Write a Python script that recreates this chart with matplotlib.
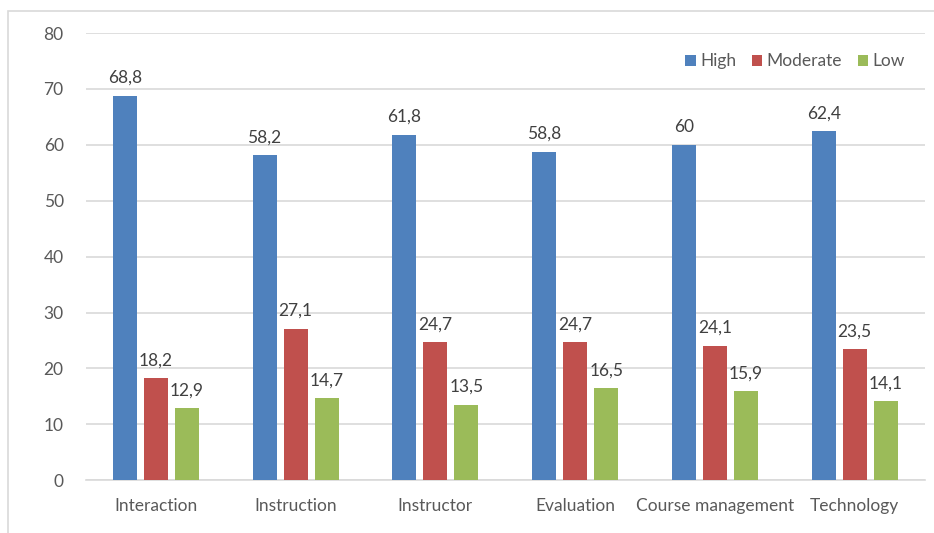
import numpy as np
import matplotlib
matplotlib.use("Agg")
import matplotlib.pyplot as plt
from matplotlib.patches import Rectangle

categories = ["Interaction", "Instruction", "Instructor", "Evaluation", "Course management", "Technology"]
high = [68.8, 58.2, 61.8, 58.8, 60, 62.4]
moderate = [18.2, 27.1, 24.7, 24.7, 24.1, 23.5]
low = [12.9, 14.7, 13.5, 16.5, 15.9, 14.1]
series = [("High", high, "#4f81bd"), ("Moderate", moderate, "#c0504d"), ("Low", low, "#9bbb59")]

plt.rcParams["font.family"] = ["Lato", "DejaVu Sans"]
txt = "#595959"

fig = plt.figure(figsize=(9.34, 5.33), dpi=100)
ax = fig.add_axes([0.092, 0.099, 0.898, 0.839])
fig.patches.append(Rectangle((8 / 934, -0.1), 1.1, 1 - 11 / 533 + 0.1, transform=fig.transFigure,
                             fill=False, edgecolor="#d9d9d9", lw=1.2))

x = np.arange(len(categories))
step, w = 0.222, 0.172
for k, (name, vals, col) in enumerate(series):
    xs = x + (k - 1) * step
    ax.bar(xs, vals, w, color=col, label=name, zorder=3)
    for xi, v in zip(xs, vals):
        lab = f"{v:g}".replace(".", ",")
        ax.annotate(lab, (xi, v), xytext=(0, 7), textcoords="offset points",
                    ha="center", va="bottom", fontsize=12.5, color="#404040")

ax.set_xlim(-0.5, len(categories) - 0.5)
ax.set_ylim(0, 80)
ax.set_yticks(range(0, 81, 10))
ax.yaxis.grid(True, color="#d9d9d9", lw=1.2, zorder=0)
ax.set_xticks(x)
ax.set_xticklabels(categories)
ax.tick_params(axis="both", length=0, colors=txt, labelsize=12.5)
ax.tick_params(axis="x", pad=13)
ax.tick_params(axis="y", pad=16)
for s in ["top", "right", "left"]:
    ax.spines[s].set_visible(False)
ax.spines["bottom"].set_color("#d9d9d9")
ax.spines["bottom"].set_linewidth(1.2)

ax.legend(loc="upper right", bbox_to_anchor=(0.995, 0.99), ncol=3, frameon=False,
          fontsize=12.5, handlelength=0.6, handleheight=0.6, handletextpad=0.25,
          columnspacing=0.9, labelcolor=txt)

fig.savefig("out.png", dpi=100)
